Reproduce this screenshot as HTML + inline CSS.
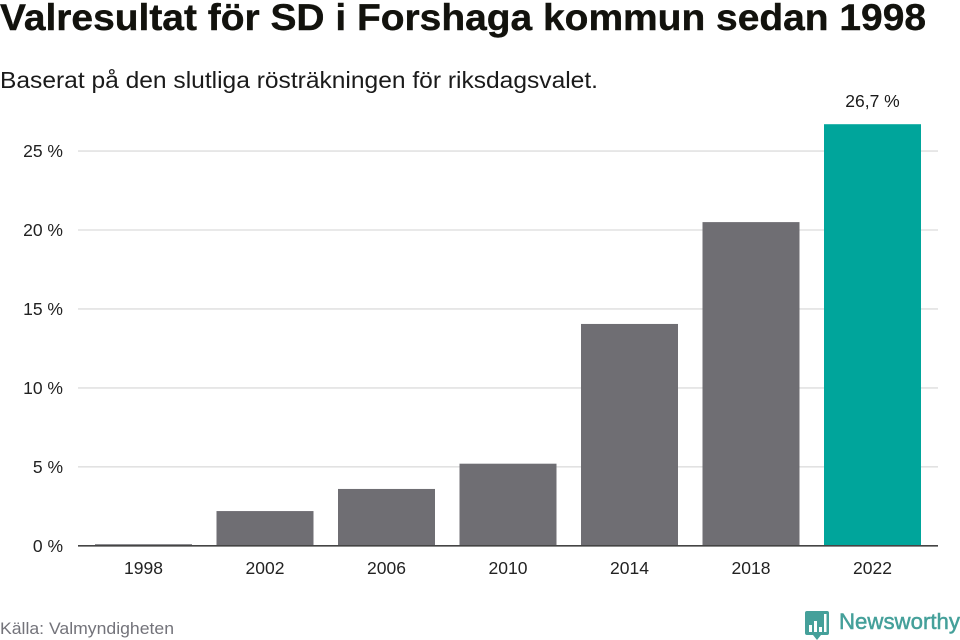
<!DOCTYPE html>
<html lang="sv">
<head>
<meta charset="utf-8">
<title>Valresultat för SD i Forshaga kommun sedan 1998</title>
<style>
html,body{margin:0;padding:0;background:#fff;width:960px;height:640px;overflow:hidden}
svg{display:block;font-family:"Liberation Sans","DejaVu Sans",sans-serif}
</style>
</head>
<body>
<svg id="chart" width="960" height="640" viewBox="0 0 960 640" xmlns="http://www.w3.org/2000/svg">
  <text x="0" y="30" font-size="37" font-weight="700" fill="#12120d" stroke="#12120d" stroke-width="0.4" textLength="926" lengthAdjust="spacingAndGlyphs">Valresultat för SD i Forshaga kommun sedan 1998</text>
  <text x="0" y="88" font-size="23" fill="#1a1a1a" textLength="598" lengthAdjust="spacingAndGlyphs">Baserat på den slutliga rösträkningen för riksdagsvalet.</text>
  <g id="grid"></g>
  <g id="bars"></g>
  <g id="xlabels"></g>
  <line x1="78" x2="938" y1="545.8" y2="545.8" stroke="#444" stroke-width="1.6"/>
  <text x="0" y="634" font-size="16.5" fill="#73737a" textLength="174" lengthAdjust="spacingAndGlyphs">Källa: Valmyndigheten</text>
  <g>
    <path d="M807 611h20a2 2 0 0 1 2 2v20a2 2 0 0 1-2 2h-6l-4 5-4-5h-6a2 2 0 0 1-2-2v-20a2 2 0 0 1 2-2z" fill="#45a09a"/>
    <rect x="809" y="625" width="3" height="7" fill="#fff"/>
    <rect x="814" y="621" width="3" height="11" fill="#fff"/>
    <rect x="819" y="627" width="3" height="5" fill="#fff"/>
    <rect x="824" y="614" width="2.5" height="18" fill="#fff"/>
    <text x="839" y="629" font-size="22" fill="#45a09a" stroke="#45a09a" stroke-width="0.5" textLength="121" lengthAdjust="spacingAndGlyphs">Newsworthy</text>
  </g>
</svg>
<script>
const categories = ["1998", "2002", "2006", "2010", "2014", "2018", "2022"];
const seriesValues = [0.1, 2.2, 3.6, 5.2, 14.05, 20.5, 26.7];
const valueLabels = ["", "", "", "", "", "", "26,7 %"];
const highlightCategory = "2022";
const yTicks = [0, 5, 10, 15, 20, 25];
const yTickLabels = ["0 %", "5 %", "10 %", "15 %", "20 %", "25 %"];

const NS = "http://www.w3.org/2000/svg";
const plotLeft = 82.75, bandStep = 121.5, barWidth = 97;
const plotBottom = 545.8, pxPerUnit = 15.79;
function yScale(v) { return plotBottom - v * pxPerUnit; }
function xScale(i) { return plotLeft + bandStep * i + bandStep / 2; }
function make(tag, attrs, text) {
  const el = document.createElementNS(NS, tag);
  for (const k in attrs) el.setAttribute(k, attrs[k]);
  if (text !== undefined) el.textContent = text;
  return el;
}
const grid = document.getElementById("grid");
yTicks.forEach(function (t, i) {
  if (t !== 0) {
    const line = make("line", { x1: 78, x2: 938, y1: yScale(t), y2: yScale(t), stroke: "#e2e2e2", "stroke-width": 1.6 });
    
    
    grid.appendChild(line);
  }
  const label = make("text", { x: 63, y: yScale(t) + 6, "text-anchor": "end", "font-size": 17.5, fill: "#222" }, yTickLabels[i]);
  
  
  grid.appendChild(label);
});
const bars = document.getElementById("bars");
const xlabels = document.getElementById("xlabels");
categories.forEach(function (c, i) {
  const top = yScale(seriesValues[i]);
  const rect = make("rect", {
    x: xScale(i) - barWidth / 2, y: top, width: barWidth, height: plotBottom - top,
    fill: c === highlightCategory ? "#00a59b" : "#6f6e73"
  });
  
  
  bars.appendChild(rect);
  if (valueLabels[i]) {
    const v = make("text", { x: xScale(i), y: top - 17, "text-anchor": "middle", "font-size": 17.5, fill: "#1a1a1a" }, valueLabels[i]);
    
    
    bars.appendChild(v);
  }
  const l = make("text", { x: xScale(i), y: 574, "text-anchor": "middle", "font-size": 17.5, fill: "#222" }, c);
  
  
  xlabels.appendChild(l);
});
</script>
</body>
</html>
